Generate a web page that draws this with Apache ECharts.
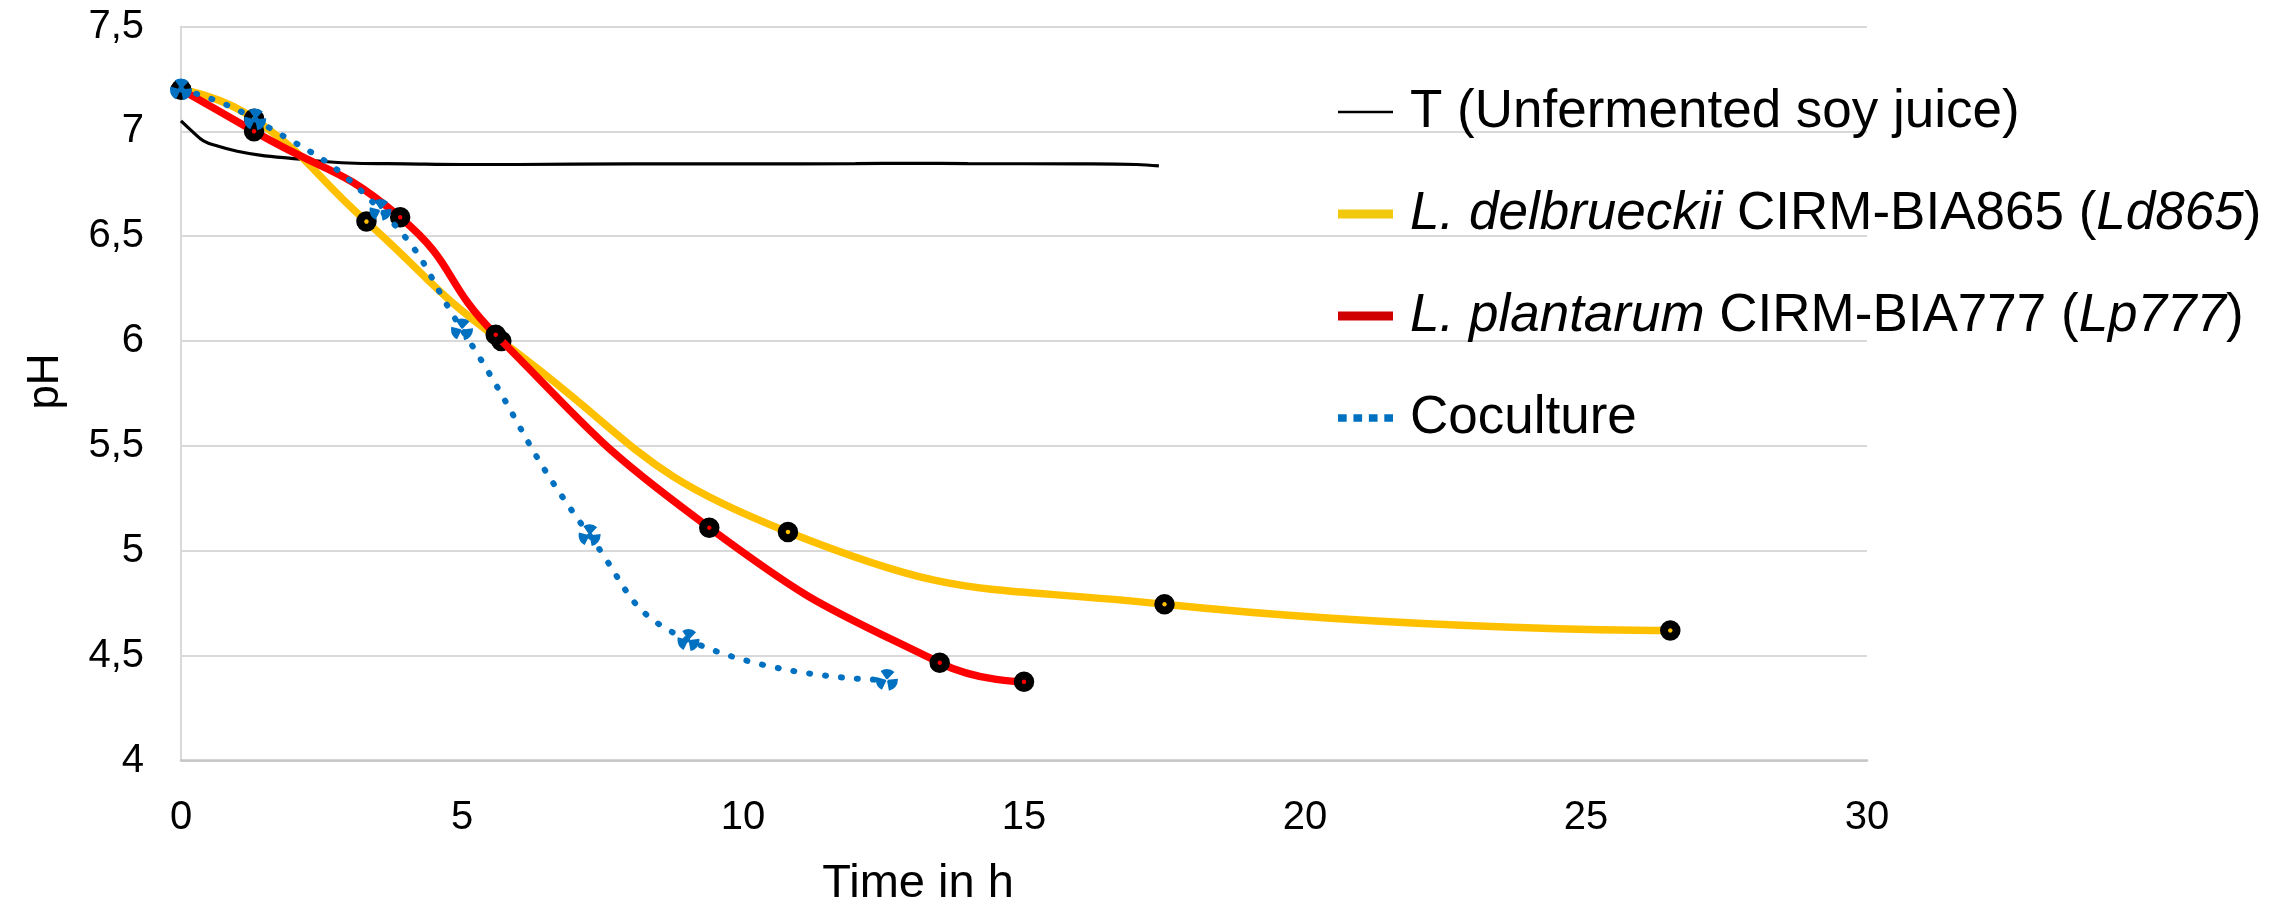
<!DOCTYPE html>
<html>
<head>
<meta charset="utf-8">
<script src="https://cdn.jsdelivr.net/npm/echarts@6/dist/echarts.min.js"></script>
<style>
html,body{margin:0;padding:0;background:#fff;}
#chart{width:2287px;height:900px;}
</style>
</head>
<body>
<div id="chart"></div>
<script>
// ---- data (time in h, pH) ----
const seriesNames = ['T (Unfermented soy juice)', 'L. delbrueckii CIRM-BIA865 (Ld865)', 'L. plantarum CIRM-BIA777 (Lp777)', 'Coculture'];
const tTime = [0, 0.2, 0.4, 0.65, 1, 1.4, 2, 2.6, 3.1, 4, 5, 6, 8, 10, 12, 13, 14, 16, 17, 17.4];
const tPH   = [7.05, 7.0, 6.955, 6.93, 6.905, 6.887, 6.87, 6.855, 6.848, 6.845, 6.842, 6.842, 6.845, 6.845, 6.846, 6.848, 6.846, 6.845, 6.842, 6.835];
const ldTime = [0, 1.3, 3.3, 5.7, 10.8, 17.5, 26.5];
const ldPH   = [7.2, 7.06, 6.57, 6.0, 5.09, 4.745, 4.62];
const lpTime = [0, 1.3, 3.9, 5.6, 9.4, 13.5, 15.0];
const lpPH   = [7.2, 7.0, 6.59, 6.03, 5.11, 4.466, 4.375];
const coTime = [0, 1.32, 3.55, 5.0, 7.27, 9.03, 12.56];
const coPH   = [7.2, 7.057, 6.625, 6.055, 5.074, 4.574, 4.384];
const xTicks = { min: 0, max: 30, interval: 5 };
const yTicks = { min: 4, max: 7.5, interval: 0.5 };

const zip = (a, b) => a.map((v, i) => [v, b[i]]);
const FONT = "'Liberation Sans', Arial, sans-serif";

const legendRich = {
  'T (Unfermented soy juice)': 'T (Unfermented soy juice)',
  'L. delbrueckii CIRM-BIA865 (Ld865)': '{i|L. delbrueckii} CIRM-BIA865 ({i|Ld865})',
  'L. plantarum CIRM-BIA777 (Lp777)': '{i|L. plantarum} CIRM-BIA777 ({i|Lp777})',
  'Coculture': 'Coculture'
};

const chart = echarts.init(document.getElementById('chart'), null, { renderer: 'canvas' });
const blackMarker = (c) => ({ color: c, borderColor: '#000', borderWidth: 8 });

chart.setOption({
  animation: false,
  backgroundColor: '#fff',
  grid: { left: 181, right: 420, top: 26.5, height: 734, containLabel: false, outerBoundsMode: 'none' },
  xAxis: {
    type: 'value', min: xTicks.min, max: xTicks.max, interval: xTicks.interval,
    name: 'Time in h', nameLocation: 'middle', nameGap: 100,
    nameTextStyle: { fontFamily: FONT, fontSize: 47, color: '#000', padding: [0, 212, 0, 0] },
    axisLine: { show: true, lineStyle: { color: '#c6c6c6', width: 2.5 } },
    axisTick: { show: false },
    splitLine: { show: false },
    axisLabel: { fontFamily: FONT, fontSize: 40, color: '#000', margin: 37 }
  },
  yAxis: {
    type: 'value', min: yTicks.min, max: yTicks.max, interval: yTicks.interval,
    name: 'pH', nameLocation: 'middle', nameGap: 113, nameRotate: 90,
    nameTextStyle: { fontFamily: FONT, fontSize: 44, color: '#000', padding: [0, 0, 0, 24] },
    axisLine: { show: true, lineStyle: { color: '#d9d9d9', width: 2 } },
    axisTick: { show: false },
    splitLine: { show: true, lineStyle: { color: '#d9d9d9', width: 2 } },
    axisLabel: { fontFamily: FONT, fontSize: 40, color: '#000', margin: 37,
      formatter: v => String(v).replace('.', ',') }
  },
  legend: {
    orient: 'vertical', left: 1333, top: 77, itemWidth: 55, itemHeight: 9, itemGap: 42,
    symbolKeepAspect: true,
    itemStyle: { borderWidth: 0 },
    textStyle: { fontFamily: FONT, fontSize: 53, color: '#000', lineHeight: 60, padding: [0, 0, 0, 12],
      rich: { i: { fontFamily: FONT, fontSize: 53, fontStyle: 'italic', color: '#000', lineHeight: 60 } } },
    formatter: n => legendRich[n] || n,
    data: [
      { name: seriesNames[0], icon: 'path://M0,0h64v3h-64z', itemStyle: { color: '#000', borderWidth: 0 } },
      { name: seriesNames[1], icon: 'path://M0,0h55v9h-55z', itemStyle: { color: '#F2C80F', borderWidth: 0 } },
      { name: seriesNames[2], icon: 'path://M0,0h55v9h-55z', itemStyle: { color: '#D00000', borderWidth: 0 } },
      { name: seriesNames[3], icon: 'path://M0,0h9v8h-9zM16,0h9v8h-9zM32,0h9v8h-9zM48,0h9v8h-9z', itemStyle: { color: '#0070C0', borderWidth: 0 } }
    ]
  },
  series: [
    {
      name: seriesNames[0], type: 'line', data: zip(tTime, tPH), smooth: 0.4,
      showSymbol: false, symbol: 'none',
      lineStyle: { color: '#000', width: 3.2 }, itemStyle: { color: '#000' }, z: 2
    },
    {
      name: seriesNames[1], type: 'line', data: zip(ldTime, ldPH), smooth: 0.5,
      symbol: 'circle', symbolSize: 12.5, showAllSymbol: true,
      lineStyle: { color: '#FFC000', width: 7.5 }, itemStyle: blackMarker('#FFC000'), z: 3
    },
    {
      name: seriesNames[2], type: 'line', data: zip(lpTime, lpPH), smooth: 0.5,
      symbol: 'circle', symbolSize: 12.5, showAllSymbol: true,
      lineStyle: { color: '#FF0000', width: 7.5 }, itemStyle: blackMarker('#FF0000'), z: 4
    },
    {
      name: seriesNames[3], type: 'line', data: zip(coTime, coPH), smooth: 0.5,
      symbol: 'circle', symbolSize: 12, showAllSymbol: true,
      lineStyle: { color: '#0070C0', width: 6, type: [1, 15], cap: 'round' },
      itemStyle: { color: 'rgba(0,0,0,0)', borderColor: '#0070C0', borderWidth: 10, borderType: [8, 4] }, z: 5
    }
  ]
});
</script>
</body>
</html>
